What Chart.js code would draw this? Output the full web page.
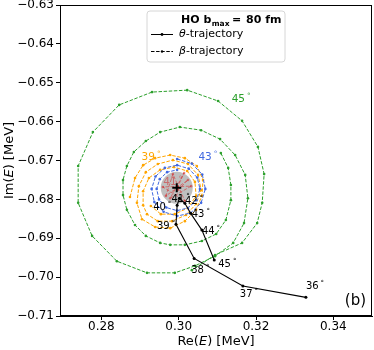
<!DOCTYPE html>
<html><head><meta charset="utf-8">
<script src="https://cdn.jsdelivr.net/npm/chart.js@4.4.1/dist/chart.umd.min.js"></script>
<style>html,body{margin:0;padding:0;background:#fff}canvas{display:block}</style>
</head><body>
<canvas id="c" width="374" height="350"></canvas>
<script>
// ---- tick values ----
const xTicks = [0.28, 0.30, 0.32, 0.34];
const yTicks = [-0.71, -0.70, -0.69, -0.68, -0.67, -0.66, -0.65, -0.64, -0.63];

// ---- theta trajectory (angle labels, Re, Im) ----
const thetaAngles = [36, 37, 38, 39, 40, 41, 42, 43, 44, 45];
const thetaRe = [0.3329, 0.3166, 0.3040, 0.2993, 0.2996, 0.3002, 0.3016, 0.3031, 0.3060, 0.3092];
const thetaIm = [-0.7052, -0.7023, -0.6952, -0.6864, -0.6815, -0.6797, -0.6810, -0.6836, -0.6879, -0.6956];

// ---- converged HO point ----
const hoRe = [0.2995];
const hoIm = [-0.6770];

// ---- beta trajectories ----
const beta45Re = [0.3109, 0.3128, 0.3135, 0.3135, 0.3122, 0.3097, 0.3060, 0.3016, 0.2978, 0.2952, 0.2915, 0.2887, 0.2866, 0.2856, 0.2856, 0.2866, 0.2884, 0.2915, 0.2952, 0.3003, 0.3058, 0.3107, 0.3146, 0.3172, 0.3179, 0.3169, 0.3141, 0.3094, 0.3042, 0.2990, 0.2918, 0.2840, 0.2776, 0.2740, 0.2740, 0.2778, 0.2846, 0.2931, 0.3022, 0.3102, 0.3164, 0.3205, 0.3221, 0.3216, 0.3203, 0.3164, 0.3094, 0.3034];
const beta45Im = [-0.6681, -0.6719, -0.6763, -0.6802, -0.6853, -0.6889, -0.6907, -0.6917, -0.6917, -0.6912, -0.6894, -0.6866, -0.6827, -0.6789, -0.6750, -0.6714, -0.6678, -0.6650, -0.6627, -0.6614, -0.6622, -0.6645, -0.6686, -0.6737, -0.6797, -0.6861, -0.6912, -0.6946, -0.6971, -0.6989, -0.6989, -0.6959, -0.6894, -0.6809, -0.6714, -0.6627, -0.6557, -0.6524, -0.6519, -0.6547, -0.6598, -0.6665, -0.6735, -0.6809, -0.6861, -0.6912, -0.6943, -0.6982];

const beta43Re = [0.2996, 0.3034, 0.3061, 0.3069, 0.3058, 0.3031, 0.2996, 0.2961, 0.2937, 0.2930, 0.2940, 0.2964, 0.2996, 0.3026, 0.3048, 0.3055, 0.3046, 0.3024, 0.2996, 0.2968, 0.2949, 0.2943, 0.2951, 0.2970, 0.2996];
const beta43Im = [-0.6696, -0.6708, -0.6736, -0.6773, -0.6809, -0.6835, -0.6843, -0.6832, -0.6807, -0.6773, -0.6741, -0.6719, -0.6712, -0.6721, -0.6744, -0.6773, -0.6802, -0.6822, -0.6829, -0.6821, -0.6800, -0.6773, -0.6748, -0.6730, -0.6724];

const beta41Re = [0.2996, 0.3014, 0.2978, 0.3032, 0.2959, 0.3016, 0.2985, 0.2967, 0.3024, 0.2998];
const beta41Im = [-0.6771, -0.6732, -0.6797, -0.6766, -0.6768, -0.6804, -0.6735, -0.6791, -0.6750, -0.6776];

const beta39Re = [0.2874, 0.2887, 0.2908, 0.2939, 0.2978, 0.3016, 0.3047, 0.3063, 0.3060, 0.3045, 0.3016, 0.2978, 0.2939, 0.2905, 0.2892, 0.2897, 0.2915, 0.2946, 0.2985, 0.3024, 0.3050, 0.3058, 0.3045, 0.3019, 0.2983, 0.2946, 0.2918, 0.2908, 0.2908, 0.2923, 0.2952, 0.2988, 0.3022, 0.3042, 0.3045, 0.3024, 0.2990, 0.2954, 0.2928];
const beta39Im = [-0.6794, -0.6745, -0.6712, -0.6694, -0.6686, -0.6694, -0.6714, -0.6750, -0.6791, -0.6827, -0.6856, -0.6874, -0.6871, -0.6851, -0.6809, -0.6766, -0.6730, -0.6709, -0.6699, -0.6709, -0.6737, -0.6776, -0.6812, -0.6840, -0.6856, -0.6856, -0.6838, -0.6815, -0.6779, -0.6745, -0.6724, -0.6717, -0.6727, -0.6755, -0.6791, -0.6822, -0.6838, -0.6838, -0.6817];

// ---- helpers ----
const FONT = 'DejaVu Sans';
const zip = (xs, ys) => xs.map((x, i) => ({x: x, y: ys[i]}));
const GREEN = 'rgb(44,160,44)';
const ORANGE = 'rgb(255,165,0)';
const BLUE = 'rgb(65,105,225)';
const RED = 'rgba(214,39,40,0.55)';
const fmt = v => v.toFixed(2).replace('-', '\u2212');

function betaSet(label, re, im, color, order) {
  return {
    label: label, data: zip(re, im), showLine: true,
    borderColor: color, borderWidth: 1, borderDash: [3.5, 1.6],
    pointRadius: 1.3, pointBackgroundColor: color, pointBorderWidth: 0,
    order: order
  };
}

function degText(ctx, txt, x, y, size, color, align) {
  ctx.save();
  ctx.fillStyle = color;
  ctx.textBaseline = 'middle';
  ctx.font = size + 'px "' + FONT + '"';
  const w1 = ctx.measureText(txt).width;
  ctx.font = (size * 0.7) + 'px "' + FONT + '"';
  const w2 = ctx.measureText('\u00b0').width;
  const total = w1 + 2 + w2;
  let x0 = align === 'right' ? x - total : x;
  ctx.textAlign = 'left';
  ctx.font = size + 'px "' + FONT + '"';
  ctx.fillText(txt, x0, y);
  ctx.font = (size * 0.7) + 'px "' + FONT + '"';
  ctx.fillText('\u00b0', x0 + w1 + 2, y - size * 0.3);
  ctx.restore();
}

// pixel offsets for the theta labels (layout only)
const thetaLabelOffsets = [[0,-11],[-3,8],[-3,12],[-19,2],[-24,2],[-8,1],[0,-2],[1,1],[0,1],[4,4]];
// spiral labels anchored at data coords
const spiralLabels = [
  {t: '45', x: 0.3137, y: -0.6543, c: GREEN},
  {t: '43', x: 0.3051, y: -0.6692, c: BLUE},
  {t: '39', x: 0.2904, y: -0.6692, c: ORANGE},
  {t: '41', x: 0.2960, y: -0.6755, c: RED}
];

const decor = {
  id: 'decor',
  beforeDraw(chart) {
    const ctx = chart.ctx;
    ctx.save(); ctx.fillStyle = '#fff'; ctx.fillRect(0, 0, chart.width, chart.height); ctx.restore();
  },
  afterDatasetsDraw(chart) {
    const ctx = chart.ctx, xs = chart.scales.x, ys = chart.scales.y;
    thetaAngles.forEach((a, i) => {
      const px = xs.getPixelForValue(thetaRe[i]) + thetaLabelOffsets[i][0];
      const py = ys.getPixelForValue(thetaIm[i]) + thetaLabelOffsets[i][1];
      degText(ctx, String(a), px, py, 10, '#000', 'left');
    });
    spiralLabels.forEach(l => {
      degText(ctx, l.t, xs.getPixelForValue(l.x), ys.getPixelForValue(l.y), 10.5, l.c, 'left');
    });
  },
  afterDraw(chart) {
    const ctx = chart.ctx, a = chart.chartArea;
    ctx.save();
    ctx.strokeStyle = '#000'; ctx.lineWidth = 1;
    ctx.strokeRect(Math.round(a.left) + 0.5, Math.round(a.top) + 0.5, Math.round(a.right - a.left) - 1, Math.round(a.bottom - a.top) - 1);
    ctx.fillStyle = '#000';
    ctx.font = '15px "' + FONT + '"';
    ctx.textAlign = 'right'; ctx.textBaseline = 'middle';
    ctx.fillText('(b)', 366, 301);
    const drawTitle = (cx, cy, rot) => {
      ctx.save();
      ctx.translate(cx, cy); ctx.rotate(rot);
      const n = '13px "' + FONT + '"', it = 'italic 13px "' + FONT + '"';
      const parts = rot ? [['Im(', n], ['E', it], [') [MeV]', n]] : [['Re(', n], ['E', it], [') [MeV]', n]];
      let tot = 0;
      parts.forEach(p => { ctx.font = p[1]; tot += ctx.measureText(p[0]).width; });
      let x = -tot / 2;
      ctx.textAlign = 'left'; ctx.textBaseline = 'middle';
      parts.forEach(p => { ctx.font = p[1]; ctx.fillText(p[0], x, 0); x += ctx.measureText(p[0]).width; });
      ctx.restore();
    };
    drawTitle((a.left + a.right) / 2, 342, 0);
    drawTitle(10, (a.top + a.bottom) / 2, -Math.PI / 2);
    // legend box
    const bx = 147, by = 11, bw = 138, bh = 51, r = 3;
    ctx.beginPath();
    ctx.moveTo(bx + r, by); ctx.lineTo(bx + bw - r, by); ctx.quadraticCurveTo(bx + bw, by, bx + bw, by + r);
    ctx.lineTo(bx + bw, by + bh - r); ctx.quadraticCurveTo(bx + bw, by + bh, bx + bw - r, by + bh);
    ctx.lineTo(bx + r, by + bh); ctx.quadraticCurveTo(bx, by + bh, bx, by + bh - r);
    ctx.lineTo(bx, by + r); ctx.quadraticCurveTo(bx, by, bx + r, by);
    ctx.closePath();
    ctx.fillStyle = 'rgba(255,255,255,0.8)'; ctx.fill();
    ctx.strokeStyle = '#d6d6d6'; ctx.lineWidth = 1; ctx.stroke();
    ctx.fillStyle = '#000'; ctx.textAlign = 'left'; ctx.textBaseline = 'alphabetic';
    ctx.font = 'bold 11px "' + FONT + '"';
    ctx.fillText('HO b', 181, 23);
    let w = ctx.measureText('HO b').width;
    ctx.font = 'bold 7.5px "' + FONT + '"';
    ctx.fillText('max', 181 + w + 0.5, 26);
    ctx.font = 'bold 11px "' + FONT + '"';
    ctx.fillText('=', 232, 23);
    ctx.fillText('80 fm', 246, 23);
    ctx.strokeStyle = '#000'; ctx.lineWidth = 1;
    ctx.beginPath(); ctx.moveTo(151, 34.5); ctx.lineTo(173, 34.5); ctx.stroke();
    ctx.beginPath(); ctx.arc(162, 34.5, 1.4, 0, Math.PI * 2); ctx.fillStyle = '#000'; ctx.fill();
    ctx.setLineDash([3.5, 1.6]);
    ctx.beginPath(); ctx.moveTo(151, 51.5); ctx.lineTo(173, 51.5); ctx.stroke();
    ctx.setLineDash([]);
    ctx.beginPath(); ctx.arc(162, 51.5, 1.2, 0, Math.PI * 2); ctx.fill();
    const entry = (sym, rest, y) => {
      ctx.textBaseline = 'middle';
      ctx.font = 'italic 11px "' + FONT + '"';
      ctx.fillText(sym, 179, y);
      const sw = ctx.measureText(sym).width;
      ctx.font = '11px "' + FONT + '"';
      ctx.fillText(rest, 179 + sw, y);
    };
    entry('\u03b8', '-trajectory', 34.5);
    entry('\u03b2', '-trajectory', 51.5);
    ctx.restore();
  }
};

const chart = new Chart(document.getElementById('c'), {
  type: 'scatter',
  data: {
    datasets: [
      {label: 'HO', data: zip(hoRe, hoIm), pointRadius: 16, pointBackgroundColor: '#bfbfbf', pointBorderWidth: 0, showLine: false, order: 10},
      betaSet('beta45', beta45Re, beta45Im, GREEN, 9),
      betaSet('beta39', beta39Re, beta39Im, ORANGE, 8),
      betaSet('beta43', beta43Re, beta43Im, BLUE, 7),
      betaSet('beta41', beta41Re, beta41Im, RED, 6),
      {label: 'theta', data: zip(thetaRe, thetaIm), showLine: true, borderColor: '#000', borderWidth: 1.1,
       pointRadius: 1.5, pointBackgroundColor: '#000', pointBorderWidth: 0, order: 2},
      {label: 'cross', data: zip(hoRe, hoIm), pointStyle: 'cross', pointRadius: 4.5, pointBorderColor: '#000',
       pointBorderWidth: 2, showLine: false, order: 0}
    ]
  },
  options: {
    responsive: false, animation: false, devicePixelRatio: 1, events: [],
    layout: {autoPadding: false, padding: {top: 5, right: 2, left: 0, bottom: 0}},
    plugins: {legend: {display: false}, tooltip: {enabled: false}},
    scales: {
      x: {
        type: 'linear', min: 0.2693, max: 0.3500,
        afterBuildTicks: s => { s.ticks = xTicks.map(v => ({value: v})); },
        ticks: {font: {family: FONT, size: 12}, color: '#000', padding: 0, maxRotation: 0, callback: v => fmt(v)},
        grid: {drawOnChartArea: false, drawTicks: true, tickLength: 4, tickColor: '#000'},
        border: {display: true, color: '#000', width: 1},
        afterFit: s => { s.height = 34; s.paddingLeft = 0; s.paddingRight = 0; }
      },
      y: {
        type: 'linear', min: -0.71, max: -0.63,
        afterBuildTicks: s => { s.ticks = yTicks.map(v => ({value: v})); },
        ticks: {font: {family: FONT, size: 12}, color: '#000', padding: 2, callback: v => fmt(v)},
        grid: {drawOnChartArea: false, drawTicks: true, tickLength: 4, tickColor: '#000'},
        border: {display: true, color: '#000', width: 1},
        afterFit: s => { s.width = 60; s.paddingTop = 0; s.paddingBottom = 0; }
      }
    }
  },
  plugins: [decor]
});
</script>
</body></html>
